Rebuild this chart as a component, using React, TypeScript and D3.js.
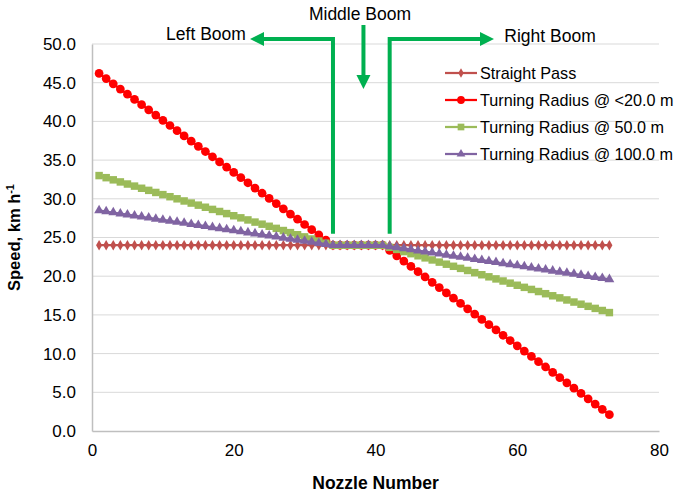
import { useRef, useEffect } from "react";
import * as d3 from "d3";

// nozzle numbers 1..73
const nozzles = [
  1, 2, 3, 4, 5, 6, 7, 8, 9, 10, 11, 12, 13, 14, 15, 16, 17, 18, 19, 20,
  21, 22, 23, 24, 25, 26, 27, 28, 29, 30, 31, 32, 33, 34, 35, 36, 37, 38, 39, 40,
  41, 42, 43, 44, 45, 46, 47, 48, 49, 50, 51, 52, 53, 54, 55, 56, 57, 58, 59, 60,
  61, 62, 63, 64, 65, 66, 67, 68, 69, 70, 71, 72, 73,
];

const straightPass = [
  24.0, 24.0, 24.0, 24.0, 24.0, 24.0, 24.0, 24.0, 24.0, 24.0, 24.0, 24.0, 24.0, 24.0, 24.0, 24.0, 24.0, 24.0, 24.0, 24.0,
  24.0, 24.0, 24.0, 24.0, 24.0, 24.0, 24.0, 24.0, 24.0, 24.0, 24.0, 24.0, 24.0, 24.0, 24.0, 24.0, 24.0, 24.0, 24.0, 24.0,
  24.0, 24.0, 24.0, 24.0, 24.0, 24.0, 24.0, 24.0, 24.0, 24.0, 24.0, 24.0, 24.0, 24.0, 24.0, 24.0, 24.0, 24.0, 24.0, 24.0,
  24.0, 24.0, 24.0, 24.0, 24.0, 24.0, 24.0, 24.0, 24.0, 24.0, 24.0, 24.0, 24.0,
];

const radius20 = [
  46.2, 45.53, 44.85, 44.18, 43.51, 42.84, 42.16, 41.49, 40.82, 40.14, 39.47, 38.8, 38.12, 37.45, 36.78, 36.11, 35.43, 34.76, 34.09, 33.41,
  32.74, 32.07, 31.39, 30.72, 30.05, 29.38, 28.7, 28.03, 27.36, 26.68, 26.01, 25.34, 24.66,
  24.0, 24.0, 24.0, 24.0, 24.0, 24.0, 24.0, 24.0,
  23.32, 22.63, 21.95, 21.26, 20.58, 19.9, 19.21, 18.53, 17.84, 17.16, 16.48, 15.79, 15.11, 14.42, 13.74, 13.06, 12.37, 11.69, 11.0, 10.32,
  9.64, 8.95, 8.27, 7.58, 6.9, 6.22, 5.53, 4.85, 4.16, 3.48, 2.8, 2.11,
];

const radius50 = [
  33.0, 32.73, 32.45, 32.18, 31.91, 31.64, 31.36, 31.09, 30.82, 30.54, 30.27, 30.0, 29.72, 29.45, 29.18, 28.91, 28.63, 28.36, 28.09, 27.81,
  27.54, 27.27, 26.99, 26.72, 26.45, 26.18, 25.9, 25.63, 25.36, 25.08, 24.81, 24.54, 24.26,
  24.0, 24.0, 24.0, 24.0, 24.0, 24.0, 24.0, 24.0,
  23.73, 23.46, 23.18, 22.91, 22.64, 22.37, 22.1, 21.82, 21.55, 21.28, 21.01, 20.74, 20.46, 20.19, 19.92, 19.65, 19.38, 19.1, 18.83, 18.56,
  18.29, 18.02, 17.74, 17.47, 17.2, 16.93, 16.66, 16.38, 16.11, 15.84, 15.57, 15.3,
];

const radius100 = [
  28.5, 28.36, 28.23, 28.09, 27.96, 27.82, 27.68, 27.55, 27.41, 27.28, 27.14, 27.0, 26.87, 26.73, 26.6, 26.46, 26.32, 26.19, 26.05, 25.92,
  25.78, 25.64, 25.51, 25.37, 25.24, 25.1, 24.96, 24.83, 24.69, 24.56, 24.42, 24.28, 24.15,
  24.0, 24.0, 24.0, 24.0, 24.0, 24.0, 24.0, 24.0,
  23.86, 23.73, 23.59, 23.45, 23.31, 23.18, 23.04, 22.9, 22.76, 22.63, 22.49, 22.35, 22.21, 22.08, 21.94, 21.8, 21.66, 21.53, 21.39, 21.25,
  21.11, 20.98, 20.84, 20.7, 20.56, 20.43, 20.29, 20.15, 20.01, 19.88, 19.74, 19.6,
];

const seriesNames = [
  "Straight Pass",
  "Turning Radius @ <20.0 m",
  "Turning Radius @ 50.0 m",
  "Turning Radius @ 100.0 m",
];
const xTicks = [0, 20, 40, 60, 80];
const yTicks = [0, 5, 10, 15, 20, 25, 30, 35, 40, 45, 50];

const width = 676;
const height = 495;
const margin = { top: 44, right: 17, bottom: 64, left: 92 };
const font = "'Liberation Sans', Arial, sans-serif";
const arrowGreen = "#00B050";

export default function App() {
  const ref = useRef<SVGSVGElement>(null);

  useEffect(() => {
    const svg = d3.select(ref.current);
    svg.selectAll("*").remove();

    const x = d3
      .scaleLinear()
      .domain([0, 80])
      .range([margin.left, width - margin.right]);
    const y = d3
      .scaleLinear()
      .domain([0, 50])
      .range([height - margin.bottom, margin.top]);

    // gridlines
    svg
      .append("g")
      .selectAll("line")
      .data(yTicks.filter((t) => t > 0))
      .join("line")
      .attr("x1", x(0))
      .attr("x2", x(80))
      .attr("y1", (d) => y(d))
      .attr("y2", (d) => y(d))
      .attr("stroke", "#D9D9D9")
      .attr("stroke-width", 1);

    // axes
    const yAxis = svg
      .append("g")
      .attr("transform", `translate(${x(0)},0)`)
      .call(d3.axisLeft(y).tickValues(yTicks).tickSize(0).tickPadding(16).tickFormat(d3.format(".1f")));
    const xAxis = svg
      .append("g")
      .attr("transform", `translate(0,${y(0)})`)
      .call(d3.axisBottom(x).tickValues(xTicks).tickSize(0).tickPadding(13));
    [xAxis, yAxis].forEach((g) => {
      g.select(".domain").attr("stroke", "#BFBFBF").attr("stroke-width", 1.5);
      g.selectAll("text")
        .attr("font-family", font)
        .attr("font-size", 17)
        .attr("fill", "#000");
    });

    const series = [
      { name: seriesNames[0], values: straightPass, color: "#C0504D", symbol: d3.symbolDiamond, size: 32 },
      { name: seriesNames[1], values: radius20, color: "#FF0000", symbol: d3.symbolCircle, size: 60 },
      { name: seriesNames[2], values: radius50, color: "#9BBB59", symbol: d3.symbolSquare, size: 56 },
      { name: seriesNames[3], values: radius100, color: "#8064A2", symbol: d3.symbolTriangle, size: 42 },
    ];

    const line = d3
      .line<number>()
      .x((_, i) => x(nozzles[i]))
      .y((d) => y(d));

    series.forEach((s) => {
      const g = svg.append("g");
      g.append("path")
        .datum(s.values)
        .attr("fill", "none")
        .attr("stroke", s.color)
        .attr("stroke-width", 2.25)
        .attr("d", line);
      g.selectAll("path.pt")
        .data(s.values)
        .join("path")
        .attr("class", "pt")
        .attr("transform", (d, i) => `translate(${x(nozzles[i])},${y(d)})`)
        .attr("fill", s.color)
        .attr("d", d3.symbol().type(s.symbol).size(s.size)());
    });

    // legend
    const legend = svg.append("g").attr("transform", "translate(445,73)");
    series.forEach((s, i) => {
      const row = legend.append("g").attr("transform", `translate(0,${i * 27})`);
      row.append("line")
        .attr("x1", 0)
        .attr("x2", 32)
        .attr("stroke", s.color)
        .attr("stroke-width", 2.25);
      row.append("path")
        .attr("transform", "translate(16,0)")
        .attr("fill", s.color)
        .attr("d", d3.symbol().type(s.symbol).size(s.size * 0.8)());
      row.append("text")
        .attr("x", 35)
        .attr("dy", "0.35em")
        .attr("font-family", font)
        .attr("font-size", 16.2)
        .text(s.name);
    });

    // axis titles
    svg.append("text")
      .attr("x", (x(0) + x(80)) / 2)
      .attr("y", 489)
      .attr("text-anchor", "middle")
      .attr("font-family", font)
      .attr("font-weight", "bold")
      .attr("font-size", 17.5)
      .text("Nozzle Number");

    const yTitle = svg.append("text")
      .attr("transform", `translate(20,${(y(0) + y(50)) / 2}) rotate(-90)`)
      .attr("text-anchor", "middle")
      .attr("font-family", font)
      .attr("font-weight", "bold")
      .attr("font-size", 16.5);
    yTitle.append("tspan").text("Speed, km h");
    yTitle.append("tspan").attr("dy", -6).attr("font-size", 11).text("-1");

    // boom annotations
    const ann = svg.append("g");
    const leftX = x(34);
    const rightX = x(42);
    const midX = x(38.3);
    const topY = 39;
    const botY = y(25.5);
    ann.append("path")
      .attr("d", `M${leftX},${botY}V${topY}H${263}`)
      .attr("fill", "none")
      .attr("stroke", arrowGreen)
      .attr("stroke-width", 4);
    ann.append("path")
      .attr("d", `M${250},${topY}L${264},${topY - 7}L${264},${topY + 7}Z`)
      .attr("fill", arrowGreen);
    ann.append("path")
      .attr("d", `M${rightX},${botY}V${topY}H${480}`)
      .attr("fill", "none")
      .attr("stroke", arrowGreen)
      .attr("stroke-width", 4);
    ann.append("path")
      .attr("d", `M${494},${topY}L${480},${topY - 7}L${480},${topY + 7}Z`)
      .attr("fill", arrowGreen);
    ann.append("path")
      .attr("d", `M${midX},${25}V${76}`)
      .attr("fill", "none")
      .attr("stroke", arrowGreen)
      .attr("stroke-width", 4);
    ann.append("path")
      .attr("d", `M${midX},${89}L${midX - 7},${75}L${midX + 7},${75}Z`)
      .attr("fill", arrowGreen);

    const labels = [
      { text: "Left Boom", x: 206, y: 40 },
      { text: "Middle Boom", x: 360, y: 20 },
      { text: "Right Boom", x: 550, y: 42 },
    ];
    ann.selectAll("text.lbl")
      .data(labels)
      .join("text")
      .attr("class", "lbl")
      .attr("x", (d) => d.x)
      .attr("y", (d) => d.y)
      .attr("text-anchor", "middle")
      .attr("font-family", font)
      .attr("font-size", 17.5)
      .text((d) => d.text);
  }, []);

  return (
    <svg
      ref={ref}
      width={width}
      height={height}
      style={{ position: "absolute", left: 0, top: 0, background: "#fff" }}
    />
  );
}
